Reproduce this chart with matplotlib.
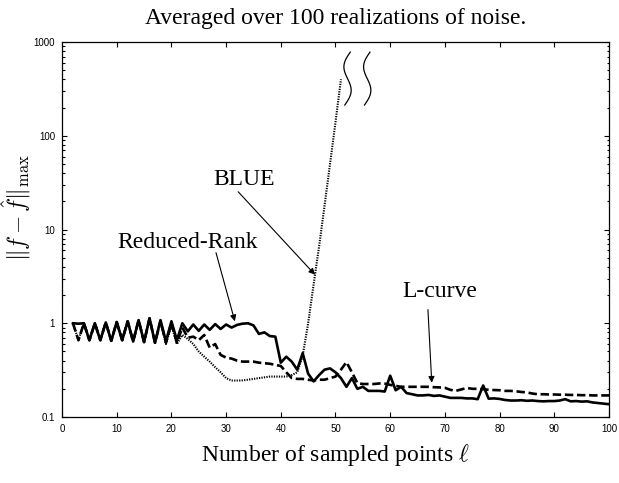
import numpy as np
import matplotlib
matplotlib.use("Agg")
from matplotlib import pyplot as plt
from matplotlib.ticker import LogLocator, NullFormatter

plt.rcParams['mathtext.fontset'] = 'cm'

# sampled points l = 2 .. 100
ell = np.arange(2, 101)

# Reduced-Rank (solid)
reduced_rank = [1.0, 0.99, 1.0, 0.66, 1.0, 0.66, 1.02, 0.65, 1.03, 0.66,
                1.05, 0.64, 1.08, 0.63, 1.13, 0.62, 1.08, 0.64, 1.05, 0.66,
                1.0, 0.82, 0.97, 0.83, 0.97, 0.85, 0.98, 0.87, 0.97, 0.9,
                0.96, 0.99, 1.0, 0.95, 0.77, 0.8, 0.73, 0.72, 0.38, 0.44,
                0.39, 0.32, 0.48, 0.29, 0.24, 0.28, 0.32, 0.33, 0.3, 0.26,
                0.21, 0.26, 0.2, 0.21, 0.19, 0.19, 0.19, 0.187, 0.276, 0.193,
                0.21, 0.18, 0.175, 0.17, 0.17, 0.172, 0.168, 0.17, 0.165, 0.16,
                0.16, 0.16, 0.158, 0.158, 0.155, 0.217, 0.157, 0.158, 0.156, 0.152,
                0.15, 0.15, 0.151, 0.149, 0.15, 0.148, 0.147, 0.148, 0.148, 0.15,
                0.155, 0.147, 0.148, 0.146, 0.147, 0.143, 0.141, 0.139, 0.137]

# L-curve (dashed)
l_curve = [1.0, 0.66, 1.0, 0.66, 1.0, 0.66, 1.02, 0.65, 1.03, 0.66,
           1.05, 0.64, 1.08, 0.63, 1.13, 0.62, 1.05, 0.62, 1.0, 0.62,
           0.9, 0.7, 0.72, 0.66, 0.75, 0.55, 0.6, 0.46, 0.43, 0.42,
           0.4, 0.39, 0.39, 0.39, 0.38, 0.375, 0.37, 0.36, 0.35, 0.3,
           0.26, 0.255, 0.255, 0.25, 0.245, 0.25, 0.25, 0.26, 0.27, 0.32,
           0.385, 0.3, 0.23, 0.225, 0.225, 0.225, 0.228, 0.227, 0.22, 0.215,
           0.21, 0.21, 0.21, 0.21, 0.21, 0.21, 0.208, 0.207, 0.205, 0.195,
           0.19, 0.197, 0.204, 0.2, 0.2, 0.198, 0.195, 0.194, 0.193, 0.19,
           0.19, 0.188, 0.185, 0.183, 0.178, 0.175, 0.175, 0.174, 0.174, 0.173,
           0.173, 0.172, 0.172, 0.171, 0.171, 0.17, 0.17, 0.17, 0.17]

# BLUE (dotted), stops at l = 51
ell_blue = np.arange(2, 52)
blue = [1.0, 0.66, 1.0, 0.66, 1.0, 0.66, 1.02, 0.65, 1.03, 0.66,
        1.05, 0.64, 1.08, 0.63, 1.13, 0.62, 1.05, 0.6, 0.95, 0.6,
        0.75, 0.68, 0.6, 0.5, 0.44, 0.39, 0.34, 0.3, 0.26, 0.245,
        0.245, 0.246, 0.25, 0.255, 0.26, 0.265, 0.27, 0.27, 0.27, 0.27,
        0.28, 0.3, 0.45, 1.0, 2.6, 6.6, 18, 50, 140, 400]

fig = plt.figure(figsize=(6.19, 4.83), dpi=100)
ax = fig.add_axes([0.1002, 0.1366, 0.8836, 0.7764])

ax.plot(ell, reduced_rank, color='k', lw=1.9, ls='-')
ax.plot(ell, l_curve, color='k', lw=1.9, ls=(0, (3.2, 1.4)))
ax.plot(ell_blue, blue, color='k', lw=1.5, ls=(0, (0.6, 0.6)))

ax.set_yscale('log')
ax.set_xlim(0, 100)
ax.set_ylim(0.1, 1000)
ax.set_xticks(range(0, 101, 10))
ax.set_yticks([0.1, 1, 10, 100, 1000])
ax.set_yticklabels(['0.1', '1', '10', '100', '1000'])
ax.yaxis.set_minor_locator(LogLocator(base=10, subs=np.arange(2, 10)))
ax.yaxis.set_minor_formatter(NullFormatter())
ax.tick_params(which='both', direction='in', top=True, right=True,
               labelsize=7, pad=5, width=0.8)
ax.tick_params(which='major', length=3.5)
ax.tick_params(which='minor', length=1.8)
for lab in ax.get_xticklabels() + ax.get_yticklabels():
    lab.set_family('Liberation Sans')
for sp in ax.spines.values():
    sp.set_linewidth(0.9)

serif = 'Liberation Serif'
ax.set_title('Averaged over 100 realizations of noise.', family=serif,
             fontsize=17, pad=13)
ax.set_xlabel(r'Number of sampled points $\ell$', family=serif, fontsize=17,
              labelpad=6)
ax.set_ylabel(r'$\|f-\hat{f}\|_{\max}$', fontsize=17)
ax.yaxis.set_label_coords(-0.053, 0.559)

arrow = dict(arrowstyle='-|>', color='k', lw=0.8, mutation_scale=9,
             shrinkA=0, shrinkB=0)
ax.text(33.3, 30.1, 'BLUE', family=serif, fontsize=17, ha='center', va='baseline')
ax.annotate('', xy=(46.25, 3.3), xytext=(32.2, 25.3), arrowprops=arrow)
ax.text(23.0, 6.4, 'Reduced-Rank', family=serif, fontsize=17, ha='center', va='baseline')
ax.annotate('', xy=(31.6, 1.05), xytext=(28.15, 5.66), arrowprops=arrow)
ax.text(69.1, 1.92, 'L-curve', family=serif, fontsize=17, ha='center', va='baseline')
ax.annotate('', xy=(67.6, 0.232), xytext=(66.9, 1.40), arrowprops=arrow)

# break marks where the BLUE curve leaves the plot
t = np.linspace(0, 1, 60)
for xc in (0.522, 0.558):
    ax.plot(xc + 0.005 * (1 - 2 * t) - 0.009 * np.sin(2 * np.pi * t),
            0.973 - 0.141 * t, color='k', lw=0.9, transform=ax.transAxes,
            clip_on=False)

fig.savefig('out.png', dpi=100)
